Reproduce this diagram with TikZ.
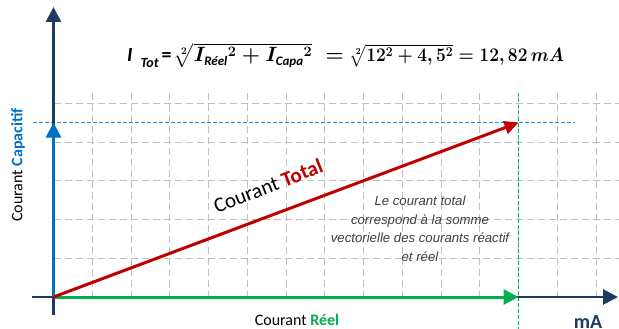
\documentclass[tikz,border=0pt]{standalone}
\usepackage{amsmath,amssymb}
\usepackage{fontspec}
\setmainfont{Carlito}
\newfontfamily\arialfont{Liberation Sans}
\usetikzlibrary{arrows.meta}
\definecolor{navy}{HTML}{1F3864}
\definecolor{capablue}{HTML}{0070C0}
\definecolor{guideblue}{HTML}{2E8BD8}
\definecolor{totred}{HTML}{C00000}
\definecolor{reelgreen}{HTML}{00B050}
\definecolor{gridgray}{HTML}{BFBFBF}
\definecolor{notegray}{HTML}{404040}
\newcommand{\mysub}[1]{\mbox{\fontsize{13}{13}\selectfont\bfseries\itshape #1}}
\newsavebox{\formulabox}
\begin{document}
\sbox{\formulabox}{\fontsize{20}{24}\selectfont
  {\bfseries\itshape I\kern8pt\raisebox{-0.3em}{\fontsize{14}{14}\selectfont Tot}\kern3pt\upshape=}\kern3pt%
  \boldmath$\sqrt[2]{I_{\mysub{Réel}}{}^{2}+I_{\mysub{Capa}}{}^{2}}\;=\;$%
  \scalebox{0.84}[0.93]{$\sqrt[2]{12^{2}+4,5^{2}}=12,82\,mA$}}%
\begin{tikzpicture}[x=1pt,y=-1pt,
  gridline/.style={draw=gridgray,line width=1pt,dash pattern=on 7pt off 4pt},
  guideline/.style={line width=0.9pt,dash pattern=on 3.5pt off 2.5pt},
  axisline/.style={draw=navy,line width=2.8pt},
  vectorline/.style={line width=3pt,-{Triangle[length=15pt,width=15pt]}},
  lbl/.style={inner sep=0pt,font=\fontsize{16}{18}\selectfont}]
\useasboundingbox (0,0) rectangle (619,329);
% grid
\foreach \k in {1,...,14}
  \draw[gridline] (53.5+\k*38.75,93) -- (53.5+\k*38.75,297);
\foreach \k in {1,...,5}
  \draw[gridline] (53.5,297-\k*38.75) -- (619,297-\k*38.75);
% coordinates
\coordinate (O) at (53.5,297);
\coordinate (xstart) at (32,297);
\coordinate (xend) at (618,297);
\coordinate (ybot) at (53.5,315);
\coordinate (yend) at (53.5,7);
\coordinate (reeltip) at (518.5,297);
\coordinate (capatip) at (53.5,122.6);
\coordinate (tottip) at (518.5,122.6);
\coordinate (dashL) at (33,122.6);
\coordinate (dashR) at (575,122.6);
\coordinate (vtop) at (518.5,93);
\coordinate (vbot) at (518.5,329);
% guides
\draw[guideline,draw=guideblue] (dashL) -- (dashR);
\draw[guideline,draw=reelgreen] (vtop) -- (vbot);
% axes
\draw[axisline,-{Triangle[length=15pt,width=15pt]}] (xstart) -- (xend);
\draw[axisline,-{Triangle[length=15pt,width=15pt]}] (ybot) -- (yend);
% vectors
\draw[vectorline,draw=reelgreen,fill=reelgreen] (O) -- (reeltip);
\draw[vectorline,draw=capablue,fill=capablue] (O) -- (capatip);
\draw[vectorline,draw=totred,fill=totred,-{Triangle[length=14pt,width=13pt]}] (O) -- (tottip);
% labels
\node[lbl,rotate=90] (lcapa) at (18,165) {Courant \textbf{\textcolor{capablue}{Capacitif}}};
\node[lbl] (lreel) at (297,320) {Courant \textbf{\textcolor{reelgreen}{Réel}}};
\node[lbl,font=\fontsize{20}{22}\selectfont\bfseries,text=navy,anchor=base] (lma) at (588,328.5) {mA};
\node[inner sep=0pt,rotate=21.5,font=\fontsize{21}{24}\selectfont] (ltot) at (268,186) {Courant \textbf{\textcolor{totred}{Total}}};
\node[inner sep=0pt,align=center,text=notegray,font=\arialfont\itshape\fontsize{13.2}{18.5}\selectfont] (note) at (420,229)
  {Le courant total\\correspond à la somme\\vectorielle des courants réactif\\et réel};
\node[inner sep=0pt,anchor=base west] (formula) at (127,62) {\usebox{\formulabox}};
\end{tikzpicture}
\end{document}
